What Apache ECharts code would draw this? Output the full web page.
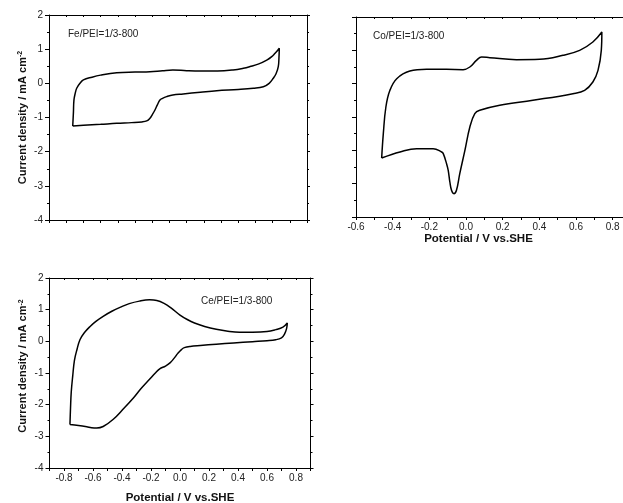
<!DOCTYPE html>
<html>
<head>
<meta charset="utf-8">
<script src="https://cdn.jsdelivr.net/npm/echarts@6/dist/echarts.min.js"></script>
<style>
html, body { margin: 0; padding: 0; background: #fff; }
#main { width: 623px; height: 503px; }
</style>
</head>
<body>
<div id="main"></div>
<script>
// CV loops: potential (V vs. SHE) and current density (mA cm-2)
var feV = [-0.462, -0.458, -0.455, -0.447, -0.439, -0.42, -0.40, -0.35, -0.30, -0.206, -0.10, -0.013, 0.06, 0.12, 0.20, 0.28, 0.38, 0.47, 0.53, 0.569, 0.62, 0.666, 0.695, 0.714, 0.73, 0.739,
           0.737, 0.733, 0.72, 0.704, 0.68, 0.646, 0.588, 0.50, 0.375, 0.28, 0.18, 0.12, 0.084, 0.06, 0.045, 0.03, 0.016, 0.0, -0.013, -0.032, -0.06, -0.12, -0.206, -0.30, -0.40, -0.462];
var feJ = [-1.25, -0.85, -0.49, -0.28, -0.145, 0.0, 0.10, 0.18, 0.24, 0.31, 0.33, 0.34, 0.37, 0.39, 0.37, 0.36, 0.36, 0.39, 0.44, 0.49, 0.57, 0.68, 0.78, 0.88, 0.97, 1.03,
           0.75, 0.49, 0.28, 0.15, 0.0, -0.10, -0.145, -0.18, -0.215, -0.26, -0.31, -0.34, -0.39, -0.44, -0.49, -0.63, -0.78, -0.92, -1.02, -1.10, -1.13, -1.15, -1.17, -1.20, -1.23, -1.25];

var coV = [-0.46, -0.451, -0.437, -0.415, -0.378, -0.306, -0.215, -0.106, -0.016, 0.021, 0.057, 0.085, 0.13, 0.275, 0.402, 0.529, 0.62, 0.692, 0.741,
           0.738, 0.72, 0.692, 0.647, 0.583, 0.365, 0.184, 0.075, 0.048, 0.021, -0.006, -0.034, -0.052, -0.066, -0.079, -0.088, -0.097, -0.106, -0.124, -0.133, -0.179, -0.269, -0.36, -0.46];
var coJ = [-2.23, -1.50, -0.70, -0.20, 0.15, 0.38, 0.43, 0.43, 0.42, 0.50, 0.70, 0.80, 0.78, 0.72, 0.73, 0.85, 1.00, 1.25, 1.55,
           1.00, 0.40, 0.05, -0.20, -0.30, -0.50, -0.65, -0.80, -0.90, -1.30, -2.00, -2.70, -3.20, -3.30, -3.20, -2.95, -2.60, -2.40, -2.10, -2.05, -1.95, -1.95, -2.05, -2.23];

var ceV = [-0.759, -0.755, -0.75, -0.74, -0.728, -0.71, -0.69, -0.66, -0.62, -0.58, -0.53, -0.47, -0.41, -0.35, -0.28, -0.21, -0.16, -0.11, -0.06, 0.0,
           0.05, 0.10, 0.17, 0.25, 0.33, 0.41, 0.50, 0.60, 0.66, 0.71, 0.74,
           0.735, 0.72, 0.70, 0.66, 0.60, 0.50, 0.37, 0.25, 0.14, 0.07, 0.03, 0.01, -0.015, -0.04, -0.069, -0.10, -0.14, -0.17, -0.21, -0.27, -0.32, -0.39, -0.46, -0.53, -0.574, -0.61, -0.643, -0.70, -0.759];
var ceJ = [-2.63, -2.10, -1.60, -1.10, -0.60, -0.25, 0.05, 0.27, 0.47, 0.63, 0.79, 0.95, 1.08, 1.19, 1.27, 1.31, 1.29, 1.20, 1.05, 0.83,
           0.69, 0.58, 0.47, 0.38, 0.32, 0.29, 0.29, 0.31, 0.37, 0.45, 0.58,
           0.40, 0.22, 0.11, 0.05, 0.02, -0.01, -0.05, -0.09, -0.13, -0.16, -0.20, -0.26, -0.38, -0.53, -0.68, -0.78, -0.87, -1.00, -1.20, -1.50, -1.78, -2.13, -2.46, -2.69, -2.74, -2.73, -2.70, -2.66, -2.63];

var labels = ['Fe/PEI=1/3-800', 'Co/PEI=1/3-800', 'Ce/PEI=1/3-800'];
var yName = 'Current density / mA cm{s|-2}';
var xName = 'Potential / V vs.SHE';

function zip(a, b) {
    return a.map(function (v, i) { return [v, b[i]]; });
}

// only every 0.2 V gets a label
function xFmt(v) {
    var k = Math.round(v * 10);
    if (Math.abs(v * 10 - k) > 1e-6 || k % 2 !== 0) return '';
    return (k / 10).toFixed(1);
}

var axLine = { onZero: false, lineStyle: { color: '#000', width: 1 } };
var lbl = { color: '#222', fontSize: 10 };
var nameStyle = {
    fontSize: 11, fontWeight: 'bold', color: '#111',
    rich: { s: { fontSize: 7, fontWeight: 'bold', color: '#111', verticalAlign: 'top', padding: [0, 0, 4, 0] } }
};

function xAxisPair(grid, min, max, showLabels, name, gap, pad) {
    return [{
        type: 'value', gridIndex: grid, position: 'bottom', min: min, max: max, interval: 0.1,
        axisLine: axLine, splitLine: { show: false },
        axisTick: { length: 3, lineStyle: { color: '#000' } },
        axisLabel: { show: showLabels, formatter: xFmt, margin: 5, color: lbl.color, fontSize: lbl.fontSize },
        name: name, nameLocation: 'middle', nameGap: gap,
        nameTextStyle: { fontSize: 11.5, fontWeight: 'bold', color: '#111', padding: pad || 0 }
    }, {
        type: 'value', gridIndex: grid, position: 'top', min: min, max: max, interval: 0.1,
        axisLine: axLine, splitLine: { show: false }, axisLabel: { show: false },
        axisTick: { inside: true, length: 2, lineStyle: { color: '#000' } }
    }];
}

function yAxisPair(grid, showLabels, name, pad) {
    return [{
        type: 'value', gridIndex: grid, position: 'left', min: -4, max: 2, interval: 1,
        axisLine: axLine, splitLine: { show: false },
        axisTick: { length: 4, lineStyle: { color: '#000' } },
        minorTick: { show: true, splitNumber: 2, length: 2, lineStyle: { color: '#000' } },
        axisLabel: { show: showLabels, margin: 6, color: lbl.color, fontSize: lbl.fontSize },
        name: name, nameLocation: 'middle', nameGap: 21, nameRotate: 90,
        nameTextStyle: Object.assign({ padding: pad || 0 }, nameStyle)
    }, {
        type: 'value', gridIndex: grid, position: 'right', min: -4, max: 2, interval: 1,
        axisLine: axLine, splitLine: { show: false }, axisLabel: { show: false },
        axisTick: { length: 3, lineStyle: { color: '#000' } },
        minorTick: { show: true, splitNumber: 2, length: 2, lineStyle: { color: '#000' } }
    }];
}

var xs = [].concat(
    xAxisPair(0, -0.6, 0.9, false, '', 0),
    xAxisPair(1, -0.6, 0.9, true, xName, 15, [0, 30, 0, 0]),
    xAxisPair(2, -0.9, 0.9, true, xName, 24)
);
var ys = [].concat(
    yAxisPair(0, true, yName),
    yAxisPair(1, false, ''),
    yAxisPair(2, true, yName, [0, 0, 0, 14])
);

function loop(i, v, j) {
    return {
        type: 'line', xAxisIndex: i * 2, yAxisIndex: i * 2,
        data: zip(v, j), showSymbol: false, smooth: 0.4,
        lineStyle: { color: '#000', width: 1.5 }, silent: true
    };
}

var option = {
    animation: false,
    backgroundColor: '#fff',
    textStyle: { fontFamily: 'Liberation Sans, Arial, sans-serif' },
    title: [
        { text: labels[0], left: 68, top: 29, padding: 0, textStyle: { fontSize: 10, fontWeight: 'normal', color: '#222' } },
        { text: labels[1], left: 373, top: 31, padding: 0, textStyle: { fontSize: 10, fontWeight: 'normal', color: '#222' } },
        { text: labels[2], left: 201, top: 296, padding: 0, textStyle: { fontSize: 10, fontWeight: 'normal', color: '#222' } }
    ],
    grid: [
        { left: 49, top: 15, width: 258, height: 205, outerBoundsMode: 'none' },
        { left: 356, top: 17, width: 275, height: 200, outerBoundsMode: 'none' },
        { left: 49.5, top: 278, width: 261, height: 190, outerBoundsMode: 'none' }
    ],
    xAxis: xs,
    yAxis: ys,
    series: [
        loop(0, feV, feJ),
        loop(1, coV, coJ),
        loop(2, ceV, ceJ)
    ]
};

var chart = echarts.init(document.getElementById('main'));
chart.setOption(option);
window.onresize = chart.resize;
</script>
</body>
</html>
